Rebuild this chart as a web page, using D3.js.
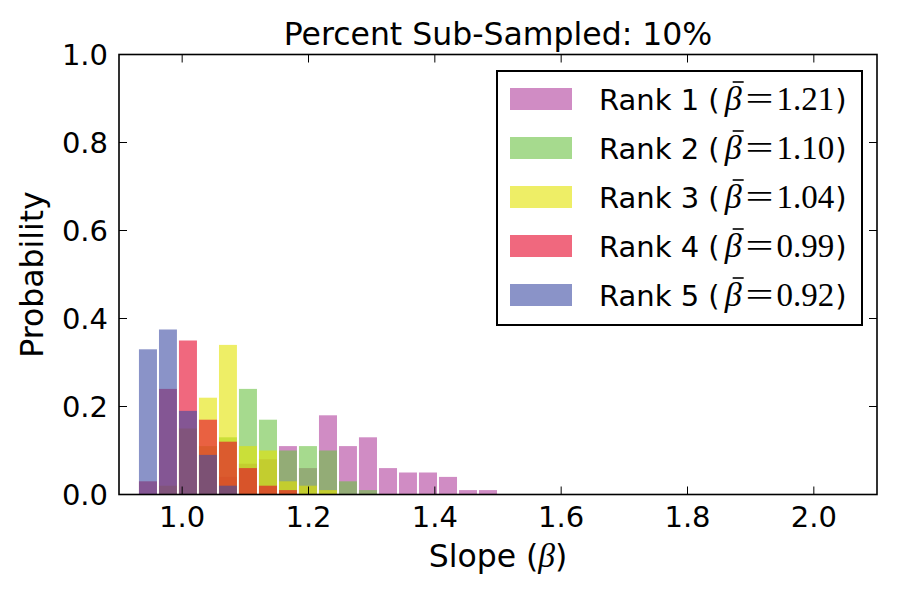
<!DOCTYPE html>
<html>
<head>
<meta charset="utf-8">
<script src="https://cdn.jsdelivr.net/npm/d3@7"></script>
<style>
  html, body { margin: 0; padding: 0; background: #fff; }
  svg { display: block; }
</style>
</head>
<body>
<svg id="chart" width="900" height="600"></svg>
<script>
// ---- data ----
const titleText = "Percent Sub-Sampled: 10%";
const binEdges = [0.9300, 0.9617, 0.9933, 1.0250, 1.0567, 1.0883, 1.1200, 1.1517, 1.1833,
                  1.2150, 1.2467, 1.2783, 1.3100, 1.3417, 1.3733, 1.4050, 1.4367, 1.4683, 1.5000];
const rankNames = ["Rank 1", "Rank 2", "Rank 3", "Rank 4", "Rank 5"];
const rankMeans = ["1.21", "1.10", "1.04", "0.99", "0.92"];
const rank1 = [0, 0, 0, 0, 0.04, 0.07, 0.08, 0.11, 0.06, 0.18, 0.11, 0.13, 0.06, 0.05, 0.05, 0.04, 0.01, 0.01];
const rank2 = [0, 0, 0, 0.11, 0.13, 0.24, 0.17, 0.10, 0.11, 0.10, 0.03, 0.01, 0, 0, 0, 0, 0, 0];
const rank3 = [0, 0.02, 0.15, 0.22, 0.34, 0.11, 0.10, 0.03, 0.02, 0.01, 0, 0, 0, 0, 0, 0, 0, 0];
const rank4 = [0.03, 0.24, 0.35, 0.17, 0.12, 0.06, 0.02, 0.01, 0, 0, 0, 0, 0, 0, 0, 0, 0, 0];
const rank5 = [0.33, 0.375, 0.19, 0.09, 0.02, 0, 0, 0, 0, 0, 0, 0, 0, 0, 0, 0, 0, 0];
const xTicks = [1.0, 1.2, 1.4, 1.6, 1.8, 2.0];
const yTicks = [0.0, 0.2, 0.4, 0.6, 0.8, 1.0];
const colors = ["#b13f9d", "#6bc143", "#e3e300", "#e60328", "#3c4ba3"];

const series = [rank1, rank2, rank3, rank4, rank5];

(function () {
const SANS = "'DejaVu Sans', sans-serif";
const SERIF = "'Liberation Serif', 'DejaVu Serif', serif";
const svg = d3.select("#chart").style("font-family", SANS);
const pL = 119, pR = 877, pT = 54.5, pB = 494.5;
const x = d3.scaleLinear().domain([0.9, 2.1]).range([pL, pR]);
const y = d3.scaleLinear().domain([0, 1]).range([pB, pT]);
const FS = 29, FL = 31.5;
const alpha = 0.6;

// bars
series.forEach((vals, k) => {
  const g = svg.append("g");
  vals.forEach((v, i) => {
    if (v <= 0) return;
    const x0 = x(binEdges[i]), x1 = x(binEdges[i + 1]);
    g.append("rect")
      .attr("x", x0 + 1)
      .attr("width", x1 - x0 - 2)
      .attr("y", y(v))
      .attr("height", y(0) - y(v))
      .attr("fill", colors[k])
      .attr("fill-opacity", alpha);
  });
});

// frame
svg.append("rect")
  .attr("x", pL).attr("y", pT)
  .attr("width", pR - pL).attr("height", pB - pT)
  .attr("fill", "none").attr("stroke", "#000").attr("stroke-width", 1.6);

// ticks (inside, on all four sides)
const TL = 8;
const tg = svg.append("g").attr("stroke", "#000").attr("stroke-width", 1);
xTicks.forEach(t => {
  tg.append("line").attr("x1", x(t)).attr("x2", x(t)).attr("y1", pB).attr("y2", pB - TL);
  tg.append("line").attr("x1", x(t)).attr("x2", x(t)).attr("y1", pT).attr("y2", pT + TL);
});
yTicks.forEach(t => {
  tg.append("line").attr("x1", pL).attr("x2", pL + TL).attr("y1", y(t)).attr("y2", y(t));
  tg.append("line").attr("x1", pR).attr("x2", pR - TL).attr("y1", y(t)).attr("y2", y(t));
});

// tick labels
svg.append("g").selectAll("text").data(xTicks).join("text")
  .attr("x", d => x(d)).attr("y", 527)
  .attr("text-anchor", "middle").style("font-size", FS + "px")
  .text(d => d3.format(".1f")(d));
svg.append("g").selectAll("text").data(yTicks).join("text")
  .attr("x", 108).attr("y", d => y(d) + 10.5)
  .attr("text-anchor", "end").style("font-size", FS + "px")
  .text(d => d3.format(".1f")(d));

// title
svg.append("text")
  .attr("x", (pL + pR) / 2).attr("y", 45)
  .attr("text-anchor", "middle").style("font-size", FL + "px")
  .text(titleText);

// y label
svg.append("text")
  .attr("transform", `translate(43,${(pT + pB) / 2}) rotate(-90)`)
  .attr("text-anchor", "middle").style("font-size", FL + "px")
  .text("Probability");

// x label: "Slope (β)"
const xl = svg.append("text")
  .attr("x", (pL + pR) / 2).attr("y", 567)
  .attr("text-anchor", "middle").style("font-size", FL + "px");
xl.append("tspan").text("Slope (");
xl.append("tspan").style("font-family", SERIF).style("font-style", "italic")
  .style("font-size", (FL + 2) + "px").text("β");
xl.append("tspan").text(")");

// legend
const lg = svg.append("g");
lg.append("rect")
  .attr("x", 497).attr("y", 71).attr("width", 365).attr("height", 254)
  .attr("fill", "#fff").attr("stroke", "#000").attr("stroke-width", 2);

rankNames.forEach((name, k) => {
  const cy = 99 + k * 49;
  lg.append("rect")
    .attr("x", 510).attr("y", cy - 11).attr("width", 62).attr("height", 22)
    .attr("fill", colors[k]).attr("fill-opacity", alpha);
  const base = cy + 11;
  let cx = 599;
  const addPiece = (str, opts) => {
    const t = lg.append("text").attr("x", cx).attr("y", base)
      .style("font-size", (opts.size || FS) + "px")
      .style("font-family", opts.font || SANS)
      .style("font-style", opts.italic ? "italic" : "normal")
      .text(str);
    if (opts.len) t.attr("textLength", opts.len).attr("lengthAdjust", "spacingAndGlyphs");
    const w = opts.len || t.node().getComputedTextLength();
    const x0 = cx;
    cx += w + (opts.after || 0);
    return { x0, w };
  };
  addPiece(name + " (", { after: 5 });
  const b = addPiece("β", { font: SERIF, italic: true, size: 34, after: 4 });
  lg.append("line")
    .attr("x1", b.x0 + 8).attr("x2", b.x0 + 19)
    .attr("y1", base - 28).attr("y2", base - 28)
    .attr("stroke", "#000").attr("stroke-width", 1.6);
  addPiece("=", { font: SERIF, size: 33, len: 28, after: 3 });
  addPiece(rankMeans[k], { font: SERIF, size: 33, after: 1 });
  addPiece(")", {});
});
})();
</script>
</body>
</html>
